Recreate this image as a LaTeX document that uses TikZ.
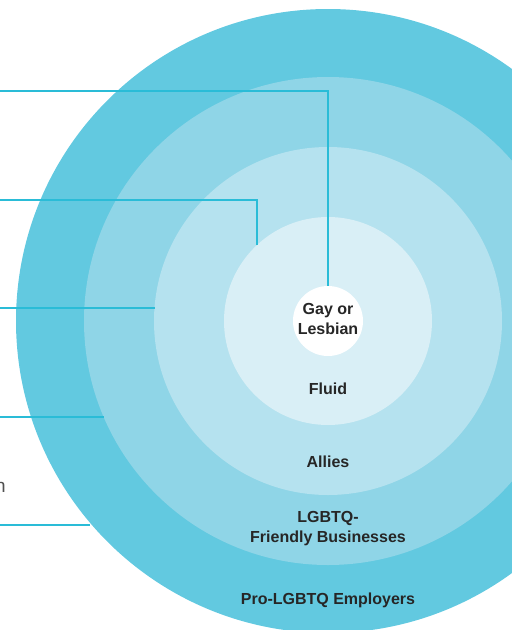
\documentclass[tikz,border=0pt]{standalone}
\usepackage{fontspec}
\setmainfont{Liberation Sans}
\definecolor{ringA}{HTML}{62C9E0}
\definecolor{ringB}{HTML}{8FD5E7}
\definecolor{ringC}{HTML}{B5E2EF}
\definecolor{ringD}{HTML}{D9EFF6}
\definecolor{linkc}{HTML}{2ABCD7}
\definecolor{txt}{HTML}{262626}
\begin{document}
\begin{tikzpicture}[x=1pt,y=-1pt,
  ring/.style={circle,inner sep=0pt,outer sep=0pt,draw=none},
  link/.style={draw=linkc,line width=2pt},
  lab/.style={font=\bfseries\fontsize{16}{20}\selectfont,text=txt,align=center,inner sep=0pt}]
\useasboundingbox (0,0) rectangle (512,630);
\clip (0,0) rectangle (512,630);
\node[ring,fill=ringA,minimum size=624pt] (c1) at (328,321) {};
\node[ring,fill=ringB,minimum size=488pt] (c2) at (328,321) {};
\node[ring,fill=ringC,minimum size=348pt] (c3) at (328,321) {};
\node[ring,fill=ringD,minimum size=208pt] (c4) at (328,321) {};
\node[ring,fill=white,minimum size=70pt] (c5) at (328,321) {};
\coordinate (s1) at (0,91);
\coordinate (s2) at (0,199.5);
\coordinate (e3) at (154.5,308);
\coordinate (e4) at (103.5,417);
\coordinate (e5) at (90,525);
\draw[link] (s1) -| (c5.north);
\draw[link] (s2) -| (c4.133.8);
\draw[link] (0,308) coordinate (s3) -- (e3);
\draw[link] (0,417) coordinate (s4) -- (e4);
\draw[link] (0,525) coordinate (s5) -- (e5);
\node[lab] (t5) at (328,318.5) {Gay or\\Lesbian};
\node[lab] (t4) at (328,389) {Fluid};
\node[lab] (t3) at (328,462) {Allies};
\node[lab] (t2) at (328,529) {LGBTQ-\\Friendly Businesses};
\node[lab] (t1) at (328,600) {Pro-LGBTQ Employers};
\node[anchor=base east,inner sep=0pt,text=txt!80,font=\fontsize{19}{19}\selectfont] (frag) at (6,492) {n};
\end{tikzpicture}
\end{document}
